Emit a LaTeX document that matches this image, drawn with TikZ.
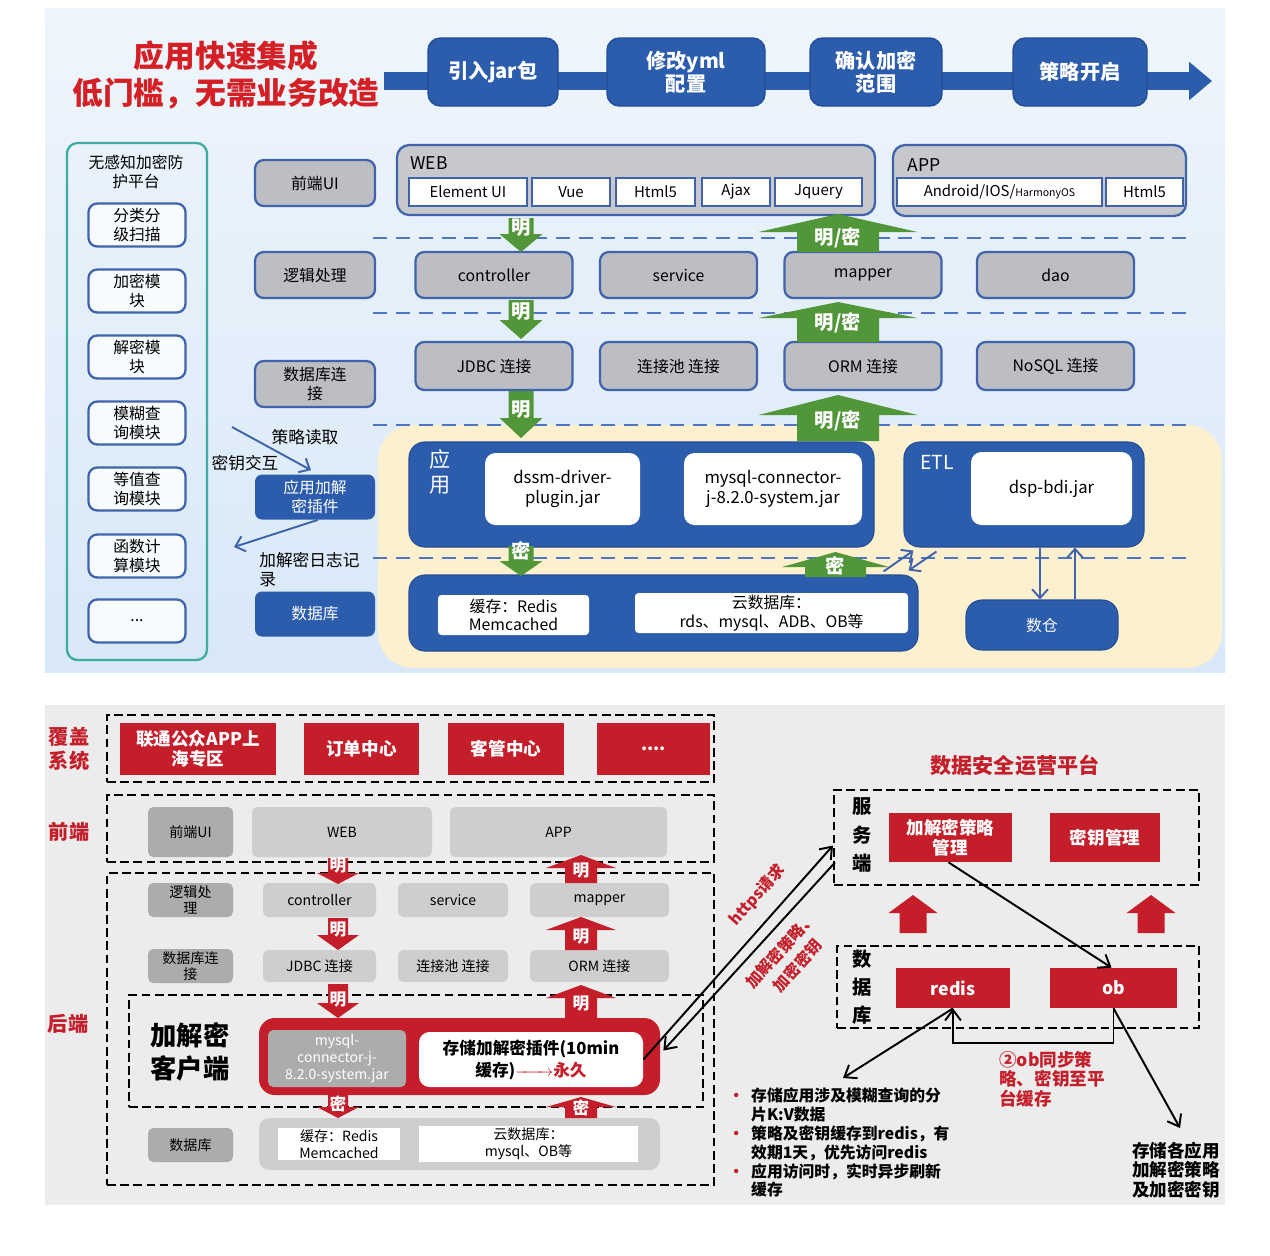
\documentclass[tikz,border=0pt]{standalone}
\usepackage{fontspec}
\usepackage{amsmath}
\setmainfont{Noto Sans CJK SC}
\usetikzlibrary{arrows.meta, positioning, calc}
\definecolor{tblue}{RGB}{44,92,172}
\definecolor{tbluedk}{RGB}{36,78,150}
\definecolor{tborder}{RGB}{64,100,172}
\definecolor{tgray}{RGB}{188,190,196}
\definecolor{tgreen}{RGB}{82,150,58}
\definecolor{tdash}{RGB}{78,118,196}
\definecolor{tteal}{RGB}{62,172,160}
\definecolor{tyellow}{RGB}{252,240,206}
\definecolor{tred}{RGB}{212,32,36}
\definecolor{bgtop}{RGB}{238,245,252}
\definecolor{bgbot}{RGB}{216,232,248}
\definecolor{bggray}{RGB}{236,236,236}
\definecolor{cred}{RGB}{196,30,42}
\definecolor{lgray}{RGB}{206,206,206}
\definecolor{dgray}{RGB}{172,172,172}
% block arrow: x, tail y, head base y, tip y, shaft half width, head half width, colour
\newcommand{\fatarrow}[7]{%
  \fill[#7] (#1-#5,#2) -- (#1-#5,#3) -- (#1-#6,#3) -- (#1,#4)
    -- (#1+#6,#3) -- (#1+#5,#3) -- (#1+#5,#2) -- cycle;}
\newcommand{\notebul}{\makebox[13pt][l]{\textcolor{cred}{\textbullet}}}
\tikzset{
  boxsize/.style 2 args={minimum width=#1*0.02cm, minimum height=#2*0.02cm},
  procbox/.style={rectangle, rounded corners=7pt, fill=tblue, draw=tbluedk,
    line width=0.8pt, text=white, font=\fontsize{11.5}{13}\selectfont\bfseries,
    align=center, inner sep=1pt},
  platframe/.style={rectangle, rounded corners=6pt, draw=tteal, line width=1.3pt},
  modbox/.style={rectangle, rounded corners=5pt, draw=tborder, line width=1.3pt,
    fill=white!60!bgtop, font=\fontsize{9}{10.5}\selectfont, align=center, inner sep=1pt},
  greybox/.style={rectangle, rounded corners=5pt, draw=tborder, line width=1.3pt,
    fill=tgray, font=\fontsize{9}{10.5}\selectfont, align=center, inner sep=1pt},
  bluebox/.style={rectangle, rounded corners=4pt, fill=tblue, text=white,
    font=\fontsize{9}{10.5}\selectfont, align=center, inner sep=1pt},
  bigblue/.style={rectangle, rounded corners=9pt, fill=tblue, draw=tbluedk, line width=0.6pt},
  webbox/.style={rectangle, rounded corners=7pt, draw=tborder, line width=1.3pt,
    fill=tgray!85!white},
  tagbox/.style={rectangle, fill=white, draw=tborder, line width=1pt,
    font=\fontsize{8.5}{10}\selectfont, inner sep=1pt},
  whitebox/.style={rectangle, rounded corners=6pt, fill=white,
    font=\fontsize{9.5}{11.5}\selectfont, align=center, inner sep=1pt},
  note/.style={font=\fontsize{9.5}{11}\selectfont, inner sep=0pt},
  bluedash/.style={tdash, line width=1.4pt, dash pattern=on 8pt off 5pt},
  bluearrow/.style={tborder, line width=1.1pt, -{Straight Barb[length=5pt,width=9pt]}},
  fatlabel/.style={text=white, font=\fontsize{11}{12}\selectfont\bfseries, inner sep=0pt},
  sidelabel/.style={text=cred, font=\fontsize{11.5}{13.5}\selectfont\bfseries, align=center},
  redbox/.style={rectangle, fill=cred, text=white, font=\fontsize{10}{11.5}\selectfont\bfseries,
    align=center, inner sep=1pt},
  lbox/.style={rectangle, rounded corners=3pt, fill=lgray, font=\fontsize{8}{9}\selectfont,
    align=center, inner sep=1pt},
  dbox/.style={lbox, fill=dgray},
  dashframe/.style={rectangle, draw=black, line width=1.2pt, dash pattern=on 5pt off 2.5pt},
  blackarrow/.style={black, line width=1.1pt, -{Straight Barb[length=6pt,width=9pt]}},
  redlabel/.style={text=cred, font=\fontsize{9}{10.5}\selectfont\bfseries, align=center, inner sep=0pt},
  redfat/.style={text=white, font=\fontsize{9.5}{10}\selectfont\bfseries, inner sep=0pt},
}
\begin{document}
\begin{tikzpicture}[x=0.02cm, y=-0.02cm]
  \useasboundingbox (0,0) rectangle (1270,1255);
  \fill[white] (0,0) rectangle (1270,1255);
  % ---------- upper panel ----------
  \fill[top color=bgtop, bottom color=bgbot] (45,8) rectangle (1225,672);
  \fill[tyellow, rounded corners=20pt] (378,425) rectangle (1222,668);
  \foreach \y in {238,313,425,558} \draw[bluedash] (373,\y) -- (1192,\y);
  % process flow
  \coordinate (flowstart) at (384,81);
  \coordinate (flowend) at (1212,81);
  \draw[tblue, line width=0.36cm, -{Triangle[length=13pt,width=21pt]}] (flowstart) -- (flowend);
  \node[text=tred, font=\fontsize{17.5}{21.5}\selectfont\bfseries, align=center] (title)
    at (226,75) {应用快速集成\\低门槛，无需业务改造};
  \node[procbox, boxsize={130}{68}] (p1) at (493,72) {引入jar包};
  \node[procbox, boxsize={158}{68}] (p2) at (686,72) {修改yml\\配置};
  \node[procbox, boxsize={132}{68}] (p3) at (876,72) {确认加密\\范围};
  \node[procbox, boxsize={134}{68}] (p4) at (1080,72) {策略开启};
  % platform column
  \node[platframe, boxsize={140}{517}] (plat) at (137,401.5) {};
  \node[font=\fontsize{9}{10.5}\selectfont, align=center] (plattitle) at (136,172) {无感知加密防\\护平台};
  \foreach \n/\y/\txt in {m1/225/{分类分\\级扫描}, m2/291/{加密模\\块}, m3/357/{解密模\\块},
      m4/423/{模糊查\\询模块}, m5/489/{等值查\\询模块}, m6/556/{函数计\\算模块}, m7/621/{{...}}}
    \node[modbox, boxsize={97}{43}] (\n) at (137,\y) {\txt};
  % layer labels
  \node[greybox, boxsize={120}{46}] (r1) at (315,183) {前端UI};
  \node[greybox, boxsize={120}{46}] (r2) at (315,275) {逻辑处理};
  \node[greybox, boxsize={120}{46}] (r3) at (315,384) {数据库连\\接};
  \node[bluebox, boxsize={120}{45}] (plug) at (315,497) {应用加解\\密插件};
  \node[bluebox, boxsize={120}{45}] (dbl) at (315,614) {数据库};
  \node[note] (readnote) at (305,437) {策略读取};
  \node[note] (keynote) at (245,463) {密钥交互};
  \node[note, align=left, anchor=north west] (lognote) at (259,552) {加解密日志记\\录};
  \coordinate (readtail) at (232,427);
  \coordinate (logtip) at (234,547);
  \draw[bluearrow] (readtail) -- ($(plug.north)+(-4,-4)$);
  \draw[bluearrow] ($(plug.south)+(3,0)$) -- (logtip);
  % front end
  \node[webbox, boxsize={478}{70}] (web) at (636,180) {};
  \node[anchor=west, font=\fontsize{10}{12}\selectfont, inner sep=0pt] (weblabel) at (410,163) {WEB};
  \foreach \n/\x/\w/\txt in {t1/468/118/Element UI, t2/571/78/Vue, t3/655.5/79/Html5,
      t4/736/68/Ajax, t5/818.5/87/Jquery}
    \node[tagbox, boxsize={\w}{28}] (\n) at (\x,192) {\txt};
  \node[webbox, boxsize={293}{71}] (app) at (1039.5,180.5) {};
  \node[anchor=west, font=\fontsize{10}{12}\selectfont, inner sep=0pt] (applabel) at (907,165) {APP};
  \node[tagbox, boxsize={205}{28}] (a1) at (999.5,192) {Android/IOS/{\fontsize{6}{7}\selectfont HarmonyOS}};
  \node[tagbox, boxsize={77}{28}] (a2) at (1144.5,192) {Html5};
  % logic and connection rows
  \foreach \n/\x/\txt in {ctrl/494/controller, svc/678.5/service, mapr/863/mapper, dao/1055.5/dao}
    \node[greybox, boxsize={157}{46}] (\n) at (\x,275) {\txt};
  \foreach \n/\x/\txt in {jdbc/494/JDBC 连接, pool/678.5/连接池 连接, orm/863/ORM 连接, nosql/1055.5/NoSQL 连接}
    \node[greybox, boxsize={157}{48}] (\n) at (\x,366) {\txt};
  % application, ETL, storage
  \node[bigblue, boxsize={465}{105}] (appbox) at (641.5,494.5) {};
  \node[text=white, font=\fontsize{12}{14}\selectfont, align=center] (applbl) at (440,472) {应\\用};
  \node[whitebox, boxsize={155}{72}] (dssm) at (562.5,489) {dssm-driver-\\plugin.jar};
  \node[whitebox, boxsize={178}{72}] (mysql) at (773,489) {mysql-connector-\\j-8.2.0-system.jar};
  \node[bigblue, boxsize={240}{105}] (etl) at (1024,494.5) {};
  \node[text=white, font=\fontsize{11}{13}\selectfont] (etllbl) at (937,462) {ETL};
  \node[whitebox, boxsize={161}{73}] (dspbdi) at (1051.5,488.5) {dsp-bdi.jar};
  \node[bigblue, boxsize={509}{76}] (db) at (663.5,613) {};
  \node[whitebox, rounded corners=2pt, boxsize={151}{40}, font=\fontsize{9}{10.5}\selectfont]
    (cache) at (513.5,615) {缓存：Redis\\Memcached};
  \node[whitebox, rounded corners=2pt, boxsize={273}{40}, font=\fontsize{9}{10.5}\selectfont]
    (cloud) at (771.5,613) {云数据库：\\rds、mysql、ADB、OB等};
  \node[bigblue, boxsize={152}{50}, text=white, font=\fontsize{9}{10.5}\selectfont] (dw) at (1042,625) {数仓};
  \draw[bluearrow] ($(etl.south)+(16,0)$) -- ($(dw.north)+(-2,0)$);
  \draw[bluearrow] ($(dw.north)+(33,0)$) -- ($(etl.south)+(51,0)$);
  \draw[bluearrow] ($(db.north east)+(-35,-3)$) -- ($(etl.south west)+(10,3)$);
  \draw[bluearrow] ($(etl.south west)+(33,4)$) -- ($(db.north east)+(-10,-4)$);
  % green flow arrows
  \fatarrow{521}{218}{234}{252}{12.5}{21.5}{tgreen}
  \fatarrow{521}{300}{320}{339}{12.5}{21.5}{tgreen}
  \fatarrow{521}{391}{418}{438}{12.5}{21.5}{tgreen}
  \fatarrow{521}{546}{561}{576}{12.5}{21.5}{tgreen}
  \fatarrow{838}{252}{232}{214}{41}{79.5}{tgreen}
  \fatarrow{838}{342}{318}{302}{41}{79.5}{tgreen}
  \fatarrow{838}{441}{415}{395}{41}{79.5}{tgreen}
  \fatarrow{835.5}{577}{567}{552}{30.5}{53.5}{tgreen}
  \node[fatlabel] (g1) at (521,228) {明};
  \node[fatlabel] (g2) at (521,312) {明};
  \node[fatlabel] (g3) at (521,410) {明};
  \node[fatlabel] (g4) at (521,551) {密};
  \node[fatlabel] (u1) at (838,238) {明/密};
  \node[fatlabel] (u2) at (838,323) {明/密};
  \node[fatlabel] (u3) at (838,421) {明/密};
  \node[fatlabel] (u4) at (835.5,566) {密};

  % ---------- lower panel ----------
  \fill[bggray] (45,705) rectangle (1225,1205);
  \node[sidelabel] (lcover) at (69,749) {覆盖\\系统};
  \node[sidelabel] (lfront) at (69,832) {前端};
  \node[sidelabel] (lback) at (68,1024) {后端};
  \node[dashframe, boxsize={607}{67}] (coverframe) at (410.5,748.5) {};
  \node[dashframe, boxsize={607}{67}] (frontframe) at (410.5,828.5) {};
  \node[dashframe, boxsize={607}{312}] (backframe) at (410.5,1029) {};
  \node[dashframe, boxsize={574}{112}] (clientframe) at (416,1051) {};
  \foreach \n/\x/\w/\txt in {s1/198/156/{联通公众APP上\\海专区}, s2/361.5/115/订单中心,
      s3/506/116/客管中心, s4/653.5/113/{{....}}}
    \node[redbox, boxsize={\w}{52}] (\n) at (\x,749) {\txt};
  % front end row
  \node[dbox, boxsize={85}{50}] (fui) at (190.5,832) {前端UI};
  \node[lbox, boxsize={180}{50}] (fweb) at (342,832) {WEB};
  \node[lbox, boxsize={217}{50}] (fapp) at (558.5,832) {APP};
  % back end rows
  \node[dbox, boxsize={85}{34}] (flog) at (190.5,900) {逻辑处\\理};
  \foreach \n/\x/\w/\txt in {fctrl/319.5/113/controller, fsvc/453/110/service, fmap/599.5/139/mapper}
    \node[lbox, boxsize={\w}{34}] (\n) at (\x,900) {\txt};
  \node[dbox, boxsize={85}{34}] (fconn) at (190.5,966) {数据库连\\接};
  \foreach \n/\x/\w/\txt in {fjdbc/319.5/113/JDBC 连接, fpool/453/110/连接池 连接, form/599.5/139/ORM 连接}
    \node[lbox, boxsize={\w}{32}] (\n) at (\x,966) {\txt};
  % client
  \node[font=\fontsize{15}{19}\selectfont\bfseries, align=center] (client) at (190,1052) {加解密\\客户端};
  \node[rectangle, rounded corners=9pt, fill=cred, boxsize={401}{77}] (plugc) at (459.5,1056.5) {};
  \node[dbox, boxsize={138}{57}, text=white, font=\fontsize{8}{9.5}\selectfont] (mysqlc)
    at (337,1058.5) {mysql-\\connector-j-\\8.2.0-system.jar};
  \node[whitebox, boxsize={224}{55}, font=\fontsize{9.5}{12.5}\selectfont\bfseries] (store)
    at (531,1059.5) {存储加解密插件(10min\\缓存)\textcolor{cred}{$\xrightarrow{\hspace{1.6em}}$永久}};
  % database row
  \node[lbox, rounded corners=6pt, boxsize={401}{52}] (fdb) at (459.5,1144) {};
  \node[dbox, boxsize={85}{34}] (fdbl) at (190.5,1145) {数据库};
  \node[rectangle, fill=white, boxsize={122}{32}, font=\fontsize{8}{9.5}\selectfont, align=center,
    inner sep=1pt] (fcache) at (339,1144) {缓存：Redis\\Memcached};
  \node[rectangle, fill=white, boxsize={219}{32}, font=\fontsize{8}{9.5}\selectfont, align=center,
    inner sep=1pt] (fcloud) at (528.5,1144) {云数据库：\\mysql、OB等};
  % red flow arrows
  \fatarrow{338}{858}{873}{884}{10}{21}{cred}
  \fatarrow{338}{918}{935}{950}{10}{21}{cred}
  \fatarrow{338}{984}{1003}{1018}{10}{21}{cred}
  \fatarrow{338}{1095}{1107}{1118}{10}{21}{cred}
  \fatarrow{581}{883}{868}{855}{16}{35}{cred}
  \fatarrow{581}{950}{930}{917}{16}{35}{cred}
  \fatarrow{581}{1018}{998}{985}{16}{35}{cred}
  \fatarrow{581}{1118}{1107}{1097}{16}{35}{cred}
  \node[redfat] (c1) at (338,866) {明};
  \node[redfat] (c2) at (338,930) {明};
  \node[redfat] (c3) at (338,1000) {明};
  \node[redfat] (c4) at (338,1104) {密};
  \node[redfat] (d1) at (581,871) {明};
  \node[redfat] (d2) at (581,937) {明};
  \node[redfat] (d3) at (581,1004) {明};
  \node[redfat] (d4) at (581,1108) {密};
  % security operations platform
  \node[text=cred, font=\fontsize{12}{14}\selectfont\bfseries] (opstitle) at (1015,765) {数据安全运营平台};
  \node[dashframe, boxsize={365}{95}] (srv) at (1016.5,837.5) {};
  \node[font=\fontsize{11}{16}\selectfont\bfseries, align=center] (srvlbl) at (862,835) {服\\务\\端};
  \node[redbox, boxsize={123}{49}] (policy) at (950.5,837.5) {加解密策略\\管理};
  \node[redbox, boxsize={110}{49}] (keymgr) at (1105,837.5) {密钥管理};
  \fatarrow{913}{933}{913}{895}{13.5}{24.5}{cred}
  \fatarrow{1151}{933}{913}{895}{13.5}{24.5}{cred}
  \node[dashframe, boxsize={362}{82}] (dbf) at (1018,987) {};
  \node[font=\fontsize{11}{16}\selectfont\bfseries, align=center] (dbflbl) at (862,987) {数\\据\\库};
  \node[redbox, boxsize={114}{40}] (redis) at (953,988) {redis};
  \node[redbox, boxsize={127}{40}] (ob) at (1113.5,988) {ob};
  % connectors
  \draw[blackarrow] (store.east) -- ($(srv.west)+(0,8)$);
  \draw[blackarrow] ($(srv.west)+(2,25)$) -- ($(plugc.east)+(3,-6)$);
  \node[redlabel, rotate=48] (httpslbl) at (757,895) {https请求};
  \node[redlabel, rotate=48, font=\fontsize{9}{13}\selectfont\bfseries] (keylbl) at (789,958) {加解密策略、\\加密密钥};
  \draw[blackarrow] ($(policy.south)+(-2,0)$) -- ($(ob.north)+(-2,0)$);
  \draw[blackarrow] (ob.south) -- ++(0,35) -| (redis.south);
  \node[redlabel, align=left, anchor=north west, font=\fontsize{10}{11}\selectfont\bfseries]
    (synclbl) at (999,1051) {②ob同步策\\略、密钥至平\\台缓存};
  \coordinate (notetip) at (843,1078);
  \coordinate (storetip) at (1180,1128);
  \draw[blackarrow] (redis.south) -- (notetip);
  \draw[blackarrow] (ob.south) -- (storetip);
  \node[anchor=north west, align=left, font=\fontsize{9}{10.8}\selectfont\bfseries, inner sep=0pt]
    (notes) at (728,1087) {\notebul 存储应用涉及模糊查询的分\\ \hspace*{13pt}片K:V数据\\
      \notebul 策略及密钥缓存到redis，有\\ \hspace*{13pt}效期1天，优先访问redis\\
      \notebul 应用访问时，实时异步刷新\\ \hspace*{13pt}缓存};
  \node[font=\fontsize{10}{11}\selectfont\bfseries, align=center] (storenote) at (1176,1170)
    {存储各应用\\加解密策略\\及加密密钥};
\end{tikzpicture}
\end{document}
